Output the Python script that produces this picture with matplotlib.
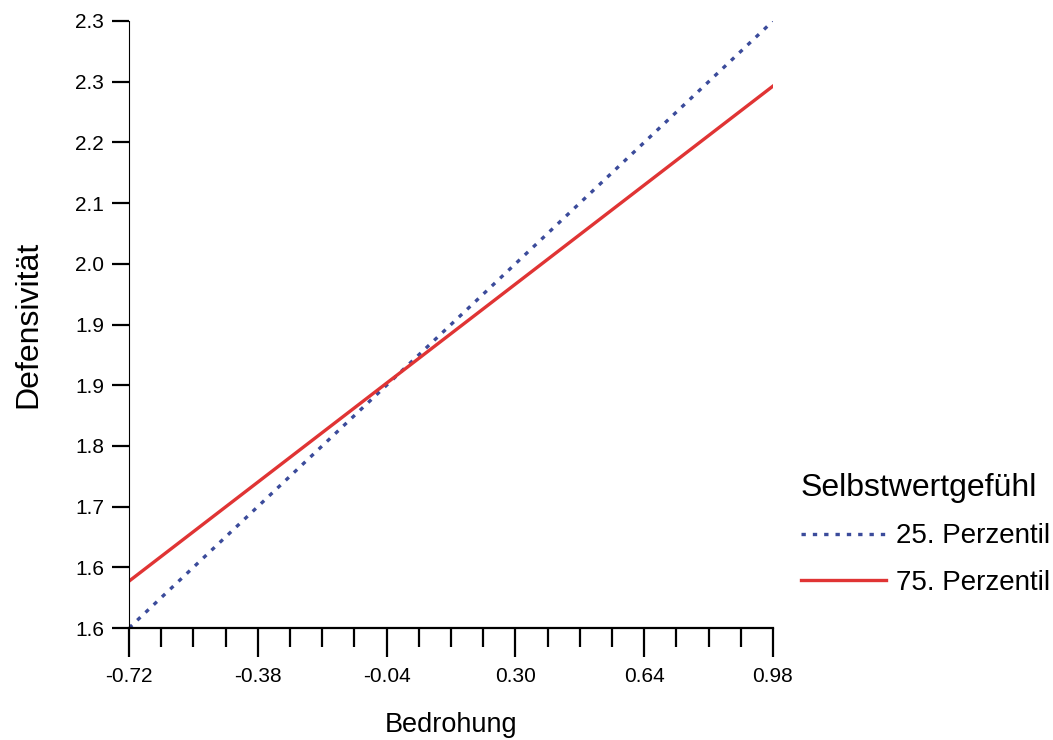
import numpy as np
import matplotlib
matplotlib.use("Agg")
import matplotlib.pyplot as plt
from matplotlib.ticker import FixedLocator, FixedFormatter

plt.rcParams['font.family'] = ['Liberation Sans', 'DejaVu Sans']

# Daten (einfache Steigungen)
bedrohung = [-0.72, 0.98]
perz25 = [1.567, 2.332]
perz75 = [1.626, 2.250]

x_major = [-0.72, -0.38, -0.04, 0.30, 0.64, 0.98]
x_labels = ["-0.72", "-0.38", "-0.04", "0.30", "0.64", "0.98"]
y_labels = ["1.6", "1.6", "1.7", "1.8", "1.9", "1.9", "2.0", "2.1", "2.2", "2.3", "2.3"]

blau = "#3b4b9b"
rot = "#e03434"

fig = plt.figure(figsize=(10.53, 7.40), dpi=100)
ax = fig.add_axes([129/1053, 1 - 628/740, (773-129)/1053, (628-21)/740])

ax.plot(bedrohung, perz25, color=blau, lw=2.4, linestyle=(0, (1.3, 2.1)), label="25. Perzentil")
ax.plot(bedrohung, perz75, color=rot, lw=2.4, label="75. Perzentil")

ax.set_xlim(bedrohung[0], bedrohung[1])
ax.set_ylim(perz25[0], perz25[1])

ax.xaxis.set_major_locator(FixedLocator(x_major))
ax.xaxis.set_major_formatter(FixedFormatter(x_labels))
ax.xaxis.set_minor_locator(FixedLocator(np.linspace(-0.72, 0.98, 21)))
ax.yaxis.set_major_locator(FixedLocator(np.linspace(perz25[0], perz25[1], 11)))
ax.yaxis.set_major_formatter(FixedFormatter(y_labels))

ax.tick_params(axis='x', which='major', length=21, width=1.6, pad=7, labelsize=15)
ax.tick_params(axis='x', which='minor', length=13.5, width=1.6)
ax.tick_params(axis='y', which='major', length=12, width=1.6, pad=6, labelsize=15)

for s in ['top', 'right']:
    ax.spines[s].set_visible(False)
ax.spines['bottom'].set_linewidth(1.6)
ax.spines['left'].set_linewidth(0.8)

ax.set_xlabel("Bedrohung", fontsize=19.5)
ax.set_ylabel("Defensivität", fontsize=23)
ax.xaxis.set_label_coords(0.5, -0.138)
ax.yaxis.set_label_coords(-0.133, 0.5)

leg = ax.legend(loc='upper left', bbox_to_anchor=(776/1053, 1 - 448/740),
                bbox_transform=fig.transFigure, frameon=False, fontsize=20,
                title="Selbstwertgefühl", title_fontsize=23,
                handlelength=3.05, handletextpad=0.36, labelspacing=0.73,
                borderpad=0.4)
leg._legend_box.align = "left"

fig.savefig("out.png", dpi=100)
